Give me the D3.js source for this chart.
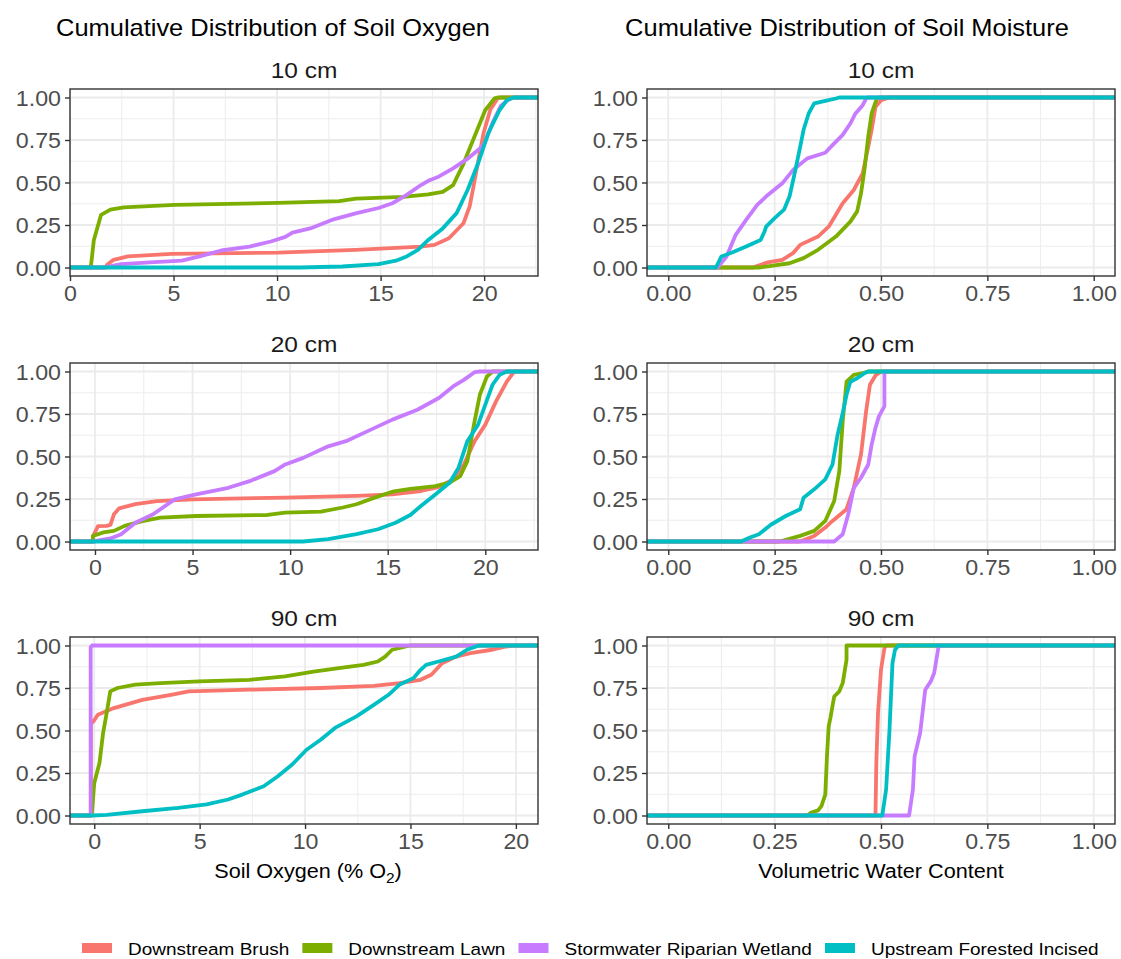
<!DOCTYPE html>
<html>
<head>
<meta charset="utf-8">
<script src="https://cdn.jsdelivr.net/npm/d3@7"></script>
<style>
  body { margin: 0; background: #fff; }
  text { font-family: "Liberation Sans", Arial, sans-serif; }
</style>
</head>
<body>
<div id="chart"></div>
<script>
const sites = ['Downstream Brush', 'Downstream Lawn', 'Stormwater Riparian Wetland', 'Upstream Forested Incised'];
const siteColours = ['#F8766D', '#7CAE00', '#C77CFF', '#00BFC4'];
const depths = ['10 cm', '20 cm', '90 cm'];
const columnTitles = ['Cumulative Distribution of Soil Oxygen', 'Cumulative Distribution of Soil Moisture'];
const yTicks = [0, 0.25, 0.5, 0.75, 1];
const oxygenTicks = [0, 5, 10, 15, 20];
const moistureTicks = [0, 0.25, 0.5, 0.75, 1];
const oxygenDomains = [[0, 22.6], [-1.28, 22.7], [-1.15, 21.05]];
const moistureDomain = [-0.05, 1.05];

// ECDF points [value, cumulative fraction]; one list per site, same order as `sites`
const oxygen10 = [
  [[1.75,0],[1.78,0.015],[2.1,0.045],[2.8,0.065],[4.9,0.08],[10.05,0.088],[13.8,0.104],[16.95,0.123],[17.6,0.133],[18.3,0.172],[19.0,0.26],[19.3,0.36],[19.6,0.55],[19.97,0.79],[20.3,0.93],[20.65,0.995],[20.8,1]],
  [[1.0,0],[1.05,0.05],[1.15,0.16],[1.5,0.31],[1.95,0.34],[2.6,0.354],[5.05,0.368],[10.05,0.38],[13.0,0.39],[13.8,0.405],[16.1,0.415],[17.3,0.43],[18.0,0.445],[18.5,0.485],[19.0,0.61],[19.5,0.76],[20.05,0.925],[20.5,0.995],[20.65,1]],
  [[1.6,0],[2.47,0.02],[3.85,0.03],[5.4,0.04],[6.26,0.065],[7.3,0.1],[8.67,0.123],[9.7,0.153],[10.4,0.18],[10.74,0.205],[11.6,0.23],[12.64,0.28],[13.84,0.32],[14.9,0.35],[15.57,0.378],[16.26,0.427],[16.95,0.485],[17.3,0.51],[17.8,0.534],[18.5,0.583],[19.2,0.64],[19.9,0.71],[20.05,0.74],[20.4,0.85],[20.8,0.95],[21.2,0.99],[21.45,1]],
  [[11.1,0],[13.15,0.006],[14.9,0.02],[15.74,0.04],[16.26,0.065],[16.8,0.104],[17.3,0.162],[18.0,0.23],[18.67,0.32],[19.2,0.456],[19.7,0.61],[20.2,0.79],[20.74,0.925],[21.1,0.984],[21.43,1]]
];
const oxygen20 = [
  [[-0.1,0],[-0.1,0.03],[0.15,0.09],[0.6,0.092],[0.79,0.098],[0.97,0.16],[1.24,0.195],[2.07,0.22],[3.17,0.238],[5.0,0.248],[9.75,0.258],[13.4,0.268],[15.24,0.277],[16.7,0.297],[17.6,0.32],[18.35,0.365],[18.9,0.453],[19.45,0.59],[20.0,0.6875],[20.55,0.824],[21.1,0.94],[21.46,0.996],[21.5,1]],
  [[-0.12,0],[-0.1,0.033],[0.42,0.053],[0.97,0.0625],[1.52,0.092],[2.43,0.12],[3.35,0.14],[5.18,0.15],[8.84,0.156],[9.75,0.17],[11.58,0.176],[12.7,0.2],[13.4,0.219],[14.33,0.258],[15.24,0.293],[16.16,0.31],[17.44,0.326],[18.17,0.346],[18.72,0.385],[19.08,0.473],[19.45,0.707],[19.72,0.863],[20.08,0.97],[20.37,1]],
  [[0.0,0],[0.05,0.004],[0.79,0.018],[1.34,0.043],[2.07,0.11],[2.98,0.16],[4.08,0.248],[5.18,0.277],[6.83,0.316],[7.92,0.355],[9.2,0.414],[9.75,0.453],[10.67,0.492],[11.95,0.56],[12.86,0.59],[14.14,0.658],[15.24,0.717],[16.52,0.775],[17.62,0.844],[18.35,0.912],[18.9,0.951],[19.45,0.996],[19.72,1]],
  [[10.67,0],[11.95,0.014],[13.4,0.043],[14.5,0.072],[15.4,0.11],[16.16,0.156],[16.7,0.209],[17.44,0.277],[18.17,0.346],[18.63,0.434],[19.08,0.59],[19.63,0.6875],[20.0,0.805],[20.37,0.922],[20.73,0.98],[21.1,1]]
];
const oxygen90 = [
  [[-0.16,0],[-0.16,0.54],[0,0.56],[0.17,0.593],[0.93,0.632],[2.28,0.68],[3.64,0.71],[4.48,0.73],[7.36,0.74],[10.74,0.75],[13.28,0.763],[14.47,0.779],[15.48,0.798],[15.99,0.828],[16.5,0.896],[17.17,0.935],[17.85,0.955],[18.87,0.975],[19.54,0.994],[19.88,1]],
  [[-0.12,0],[0,0.19],[0.25,0.31],[0.42,0.485],[0.59,0.603],[0.76,0.73],[1.1,0.75],[1.95,0.77],[3.13,0.779],[4.99,0.789],[7.36,0.798],[9.05,0.818],[10.4,0.847],[11.6,0.867],[12.77,0.886],[13.45,0.906],[13.8,0.935],[14.13,0.975],[14.64,0.99],[14.97,1]],
  [[-0.17,0],[-0.17,0.99],[-0.1,1]],
  [[-0.1,0],[0.59,0.004],[2.28,0.025],[3.98,0.045],[5.33,0.065],[6.35,0.094],[7.02,0.123],[8.04,0.172],[8.71,0.231],[9.39,0.3],[10.07,0.387],[10.74,0.446],[11.42,0.515],[12.44,0.583],[13.28,0.652],[13.96,0.71],[14.47,0.769],[15.14,0.808],[15.48,0.857],[15.74,0.886],[16.33,0.906],[17.17,0.935],[17.68,0.975],[18.19,0.998],[18.36,1]]
];
const moisture10 = [
  [[0.2,0],[0.205,0.006],[0.234,0.03],[0.268,0.045],[0.293,0.084],[0.31,0.133],[0.352,0.182],[0.377,0.24],[0.394,0.31],[0.41,0.378],[0.436,0.456],[0.457,0.554],[0.47,0.71],[0.478,0.81],[0.487,0.945],[0.5,0.984],[0.52,1]],
  [[0.213,0],[0.242,0.01],[0.285,0.025],[0.318,0.055],[0.352,0.104],[0.394,0.182],[0.428,0.27],[0.444,0.33],[0.453,0.436],[0.461,0.573],[0.47,0.77],[0.478,0.906],[0.49,0.994],[0.495,1]],
  [[0.116,0],[0.137,0.065],[0.158,0.19],[0.183,0.28],[0.209,0.368],[0.234,0.427],[0.268,0.495],[0.293,0.573],[0.327,0.642],[0.369,0.675],[0.386,0.72],[0.41,0.78],[0.428,0.847],[0.44,0.906],[0.457,0.955],[0.465,0.994],[0.468,1]],
  [[0.112,0],[0.125,0.065],[0.15,0.088],[0.183,0.123],[0.217,0.162],[0.226,0.21],[0.23,0.24],[0.25,0.29],[0.272,0.34],[0.285,0.417],[0.297,0.554],[0.31,0.71],[0.318,0.81],[0.33,0.906],[0.343,0.965],[0.369,0.98],[0.394,0.994],[0.402,1]]
];
const moisture20 = [
  [[0.31,0],[0.343,0.033],[0.369,0.082],[0.386,0.121],[0.419,0.19],[0.436,0.316],[0.453,0.512],[0.465,0.766],[0.474,0.922],[0.487,0.977],[0.5,1]],
  [[0.26,0],[0.268,0.004],[0.31,0.033],[0.343,0.0625],[0.369,0.121],[0.39,0.238],[0.402,0.414],[0.41,0.707],[0.419,0.94],[0.436,0.98],[0.457,0.99],[0.47,1]],
  [[0.39,0],[0.41,0.043],[0.423,0.16],[0.436,0.316],[0.453,0.375],[0.47,0.453],[0.478,0.57],[0.487,0.668],[0.495,0.736],[0.508,0.795],[0.508,1]],
  [[0.171,0],[0.192,0.023],[0.213,0.043],[0.242,0.1],[0.276,0.15],[0.31,0.19],[0.318,0.258],[0.343,0.307],[0.369,0.365],[0.386,0.453],[0.398,0.629],[0.41,0.756],[0.419,0.863],[0.428,0.94],[0.444,0.96],[0.461,0.99],[0.47,1]]
];
const moisture90 = [
  [[0.487,0],[0.489,0.31],[0.493,0.603],[0.5,0.857],[0.508,0.984],[0.512,1]],
  [[0.327,0],[0.335,0.016],[0.352,0.03],[0.36,0.055],[0.369,0.123],[0.373,0.348],[0.377,0.524],[0.381,0.573],[0.39,0.7],[0.402,0.73],[0.41,0.779],[0.419,0.916],[0.419,1]],
  [[0.566,0],[0.575,0.153],[0.579,0.348],[0.592,0.485],[0.604,0.74],[0.617,0.789],[0.625,0.838],[0.634,0.975],[0.636,1]],
  [[0.503,0],[0.512,0.153],[0.52,0.505],[0.527,0.896],[0.533,0.975],[0.541,1]]
];

const width = 1121, height = 959;
const panelLeft = [70, 647];
const panelTop = [89, 363, 637];
const panelW = 468, panelH = 187;
const tickColour = '#333333', labelColour = '#4D4D4D', gridColour = '#EBEBEB';

const svg = d3.select('#chart').append('svg')
  .attr('width', width)
  .attr('height', height);

// the reference text is set a little wider than Liberation Sans, so stretch it sideways
function stretch(sel, sx) {
  sel.each(function() {
    let t = d3.select(this);
    let x = +t.attr('x') || 0, y = +t.attr('y') || 0;
    t.attr('x', 0).attr('y', 0)
      .attr('transform', 'translate(' + x + ',' + y + ') scale(' + sx + ',1)');
  });
}

function minorBreaks(ticks, domain) {
  let step = ticks[1] - ticks[0];
  let out = [];
  for (let t of ticks.concat([ticks[0] - step])) {
    let m = t + step / 2;
    if (m > domain[0] && m < domain[1]) out.push(m);
  }
  return out;
}

function drawPanel(left, top, domain, xTicks, xFormat, series, stripLabel, idx) {
  let x = d3.scaleLinear().domain(domain).range([0, panelW]);
  let y = d3.scaleLinear().domain([-0.05, 1.05]).range([panelH, 0]);
  let g = svg.append('g').attr('transform', 'translate(' + left + ',' + top + ')');

  // grid
  let grid = g.append('g');
  grid.selectAll('line.vmin').data(minorBreaks(xTicks, domain)).join('line')
    .attr('x1', d => x(d)).attr('x2', d => x(d)).attr('y1', 0).attr('y2', panelH)
    .attr('stroke', gridColour).attr('stroke-width', 0.9);
  grid.selectAll('line.hmin').data(minorBreaks(yTicks, [-0.05, 1.05])).join('line')
    .attr('y1', d => y(d)).attr('y2', d => y(d)).attr('x1', 0).attr('x2', panelW)
    .attr('stroke', gridColour).attr('stroke-width', 0.9);
  grid.selectAll('line.vmaj').data(xTicks).join('line')
    .attr('x1', d => x(d)).attr('x2', d => x(d)).attr('y1', 0).attr('y2', panelH)
    .attr('stroke', gridColour).attr('stroke-width', 1.8);
  grid.selectAll('line.hmaj').data(yTicks).join('line')
    .attr('y1', d => y(d)).attr('y2', d => y(d)).attr('x1', 0).attr('x2', panelW)
    .attr('stroke', gridColour).attr('stroke-width', 1.8);

  // ecdf lines, padded out to the panel edges like stat_ecdf does
  let clipId = 'clip' + idx;
  g.append('clipPath').attr('id', clipId).append('rect')
    .attr('width', panelW).attr('height', panelH);
  let line = d3.line().x(d => x(d[0])).y(d => y(d[1]));
  g.append('g').attr('clip-path', 'url(#' + clipId + ')')
    .selectAll('path')
    .data(series)
    .join('path')
    .attr('d', d => line([[domain[0] - 1, 0]].concat(d, [[domain[1] + 1, 1]])))
    .attr('fill', 'none')
    .attr('stroke', (d, i) => siteColours[i])
    .attr('stroke-width', 3.8)
    .attr('stroke-linejoin', 'round');

  g.append('rect')
    .attr('width', panelW).attr('height', panelH)
    .attr('fill', 'none').attr('stroke', tickColour).attr('stroke-width', 1.4);

  // axes
  let ya = g.append('g').call(d3.axisLeft(y).tickValues(yTicks).tickFormat(d3.format('.2f')).tickSize(5).tickPadding(4));
  let xa = g.append('g').attr('transform', 'translate(0,' + panelH + ')')
    .call(d3.axisBottom(x).tickValues(xTicks).tickFormat(xFormat).tickSize(5).tickPadding(5));
  for (let a of [ya, xa]) {
    a.select('.domain').remove();
    a.selectAll('line').attr('stroke', tickColour).attr('stroke-width', 1.4);
    a.selectAll('text').attr('fill', labelColour).attr('font-size', '21.5px')
      .attr('font-family', '"Liberation Sans", Arial, sans-serif');
    stretch(a.selectAll('text'), 1.08);
  }
  ya.selectAll('text').attr('dy', '0.36em');

  let strip = g.append('text')
    .attr('x', panelW / 2).attr('y', -11)
    .attr('text-anchor', 'middle')
    .attr('font-size', '21.5px')
    .attr('fill', '#1A1A1A')
    .text(stripLabel);
  stretch(strip, 1.14);
}

let idx = 0;
let oxygenSeries = [oxygen10, oxygen20, oxygen90];
let moistureSeries = [moisture10, moisture20, moisture90];
for (let r = 0; r < 3; r++) {
  drawPanel(panelLeft[0], panelTop[r], oxygenDomains[r], oxygenTicks, d3.format('d'), oxygenSeries[r], depths[r], idx++);
  drawPanel(panelLeft[1], panelTop[r], moistureDomain, moistureTicks, d3.format('.2f'), moistureSeries[r], depths[r], idx++);
}

// column titles
let titles = svg.selectAll('text.coltitle')
  .data(columnTitles)
  .join('text')
  .attr('class', 'coltitle')
  .attr('x', (d, i) => [273, 847][i])
  .attr('y', 36)
  .attr('text-anchor', 'middle')
  .attr('font-size', '24px')
  .attr('fill', '#000')
  .text(d => d);
stretch(titles, 1.06);

// axis titles
let ox = svg.append('text')
  .attr('x', panelLeft[0] + panelW / 2 + 4).attr('y', 878)
  .attr('text-anchor', 'middle').attr('font-size', '21px').attr('fill', '#000');
ox.append('tspan').text('Soil Oxygen (% O');
ox.append('tspan').attr('font-size', '15px').attr('dy', 5).text('2');
ox.append('tspan').attr('dy', -5).text(')');
let vw = svg.append('text')
  .attr('x', panelLeft[1] + panelW / 2).attr('y', 878)
  .attr('text-anchor', 'middle').attr('font-size', '21px').attr('fill', '#000')
  .text('Volumetric Water Content');
stretch(ox, 1.03);
stretch(vw, 1.03);

// legend
const legendSx = 1.15;
let legend = svg.append('g');
let items = legend.selectAll('g').data(sites).join('g');
items.append('rect').attr('width', 30).attr('height', 10).attr('y', 943)
  .attr('fill', (d, i) => siteColours[i]);
items.append('text').attr('x', 46).attr('y', 955)
  .attr('font-size', '16.5px').attr('fill', '#000').text(d => d);
let cx = 82;
items.each(function() {
  let w = d3.select(this).select('text').node().getComputedTextLength() * legendSx;
  d3.select(this).attr('transform', 'translate(' + cx + ',0)');
  cx += 46 + w + 13;
});
stretch(items.selectAll('text'), legendSx);
</script>
</body>
</html>
